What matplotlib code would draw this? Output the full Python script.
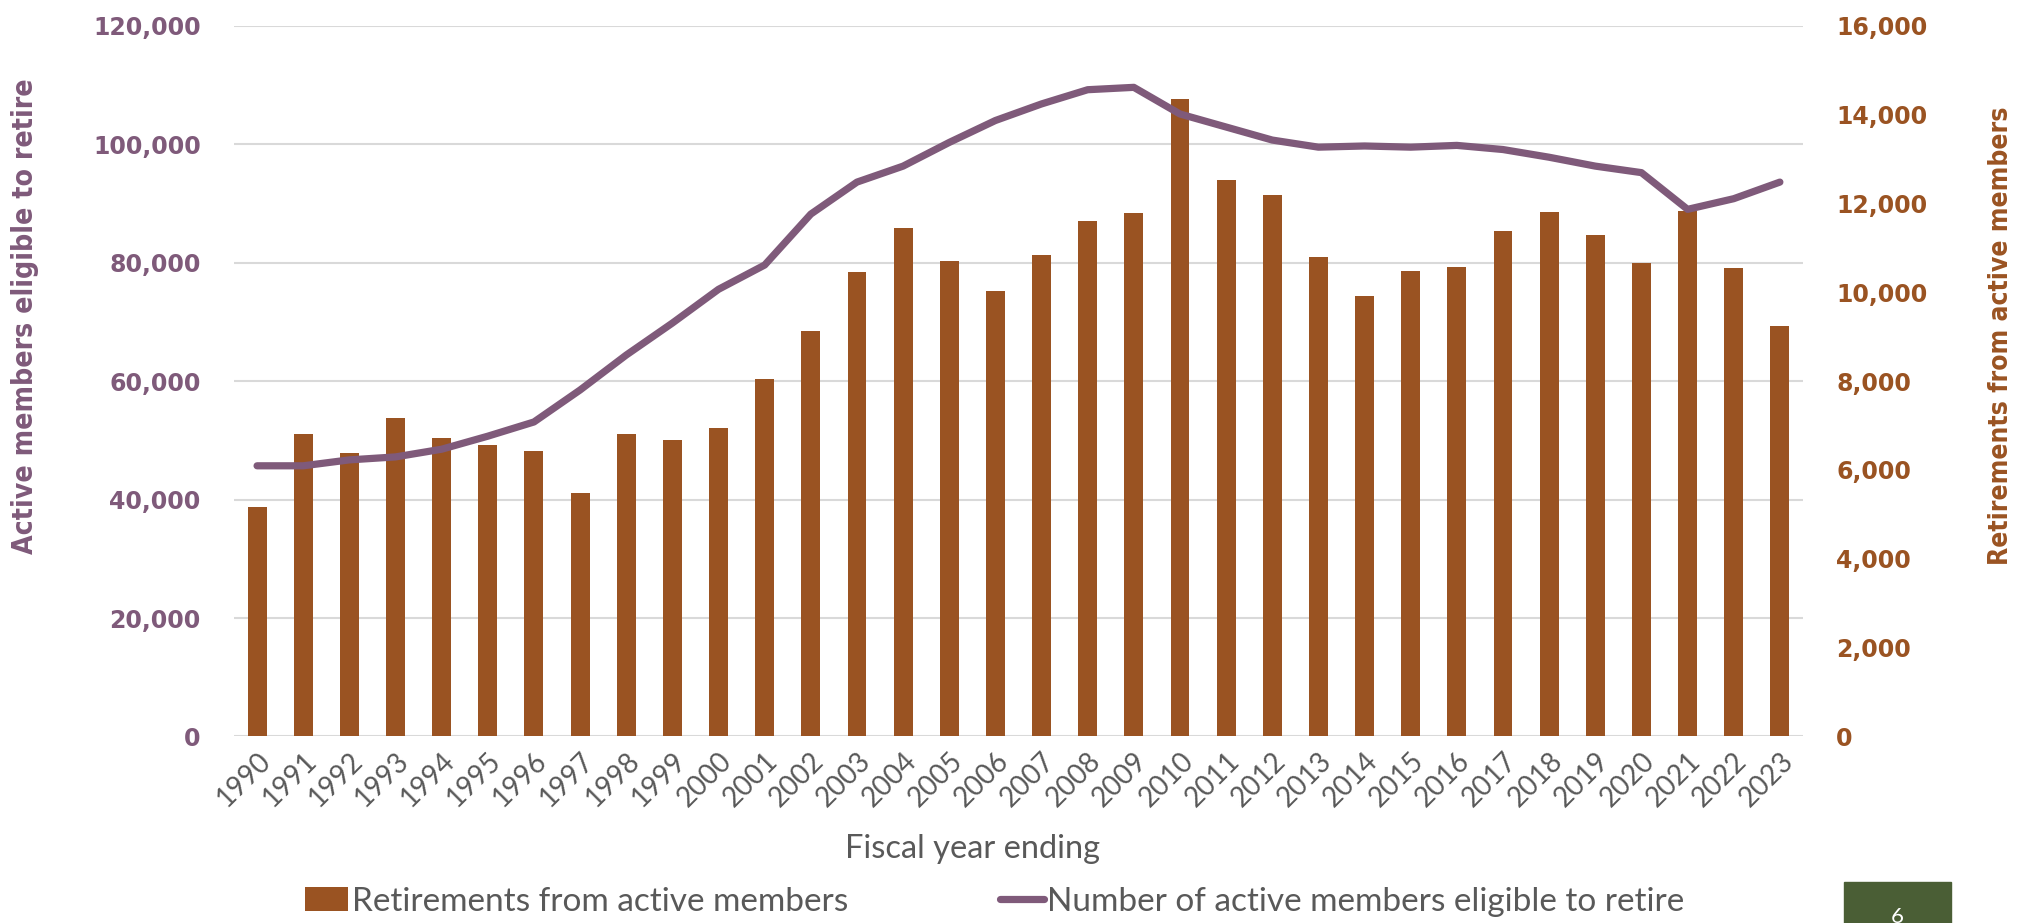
import matplotlib
matplotlib.use("Agg")
import matplotlib.pyplot as plt
from matplotlib import font_manager
import numpy as np
from matplotlib.ticker import FuncFormatter
from matplotlib.patches import Rectangle

years = list(range(1990, 2024))
retirements = [5170, 6810, 6390, 7170, 6720, 6570, 6430, 5490, 6810, 6680,
               6950, 8050, 9120, 10450, 11440, 10700, 10020, 10850, 11600, 11780,
               14360, 12520, 12180, 10790, 9910, 10470, 10560, 11370, 11800, 11300,
               10670, 11820, 10540, 9240]
eligible = [45700, 45700, 46700, 47200, 48500, 50700, 53100, 58500, 64400, 69800,
            75500, 79600, 88200, 93600, 96300, 100300, 104000, 106800, 109200, 109600,
            105100, 102900, 100700, 99500, 99700, 99500, 99800, 99100, 97800, 96300,
            95200, 89000, 90800, 93600]

purple = '#7f5a7a'
brown = '#9a5322'
gray = '#595959'

# condensed font for the axis titles, if one is around
names = {f.name for f in font_manager.fontManager.ttflist}
if 'Liberation Sans Narrow' in names:
    title_font = dict(family='Liberation Sans Narrow', size=27)
    right_size = 25.3
elif 'DejaVu Sans Condensed' in names:
    title_font = dict(family='DejaVu Sans Condensed', size=22.5)
    right_size = 21
else:
    title_font = dict(family='DejaVu Sans', size=20.3, stretch='condensed')
    right_size = 19

fig = plt.figure(figsize=(20.26, 9.23), dpi=100)
rect = [0.1155, 0.2021, 0.7744, 0.770]
x = np.arange(len(years))

# background axes: left scale, gridlines
ax = fig.add_axes(rect)
ax.set_ylim(0, 120000)
ax.set_yticks(range(0, 120001, 20000))
ax.yaxis.grid(True, color='#d9d9d9', linewidth=1.5)
ax.set_axisbelow(True)
ax.set_xlim(-0.5, len(years) - 0.5)
ax.set_xticks(x)
ax.set_xticklabels([str(y) for y in years], rotation=45, ha='right',
                   rotation_mode='anchor', fontsize=20, color=gray, family='Lato')
for s in ax.spines.values():
    s.set_visible(False)
ax.tick_params(length=0)
ax.tick_params(axis='x', pad=8)
ax.tick_params(axis='y', pad=24)
ax.yaxis.set_major_formatter(FuncFormatter(lambda v, p: f'{int(v):,}'))
for t in ax.get_yticklabels():
    t.set_color(purple)
    t.set_fontsize(17)
    t.set_fontweight('bold')

# bars on right scale
ax2 = ax.twinx()
ax2.bar(x, retirements, width=0.41, color=brown, label='Retirements from active members')
ax2.set_ylim(0, 16000)
ax2.set_yticks(range(0, 16001, 2000))
ax2.yaxis.set_major_formatter(FuncFormatter(lambda v, p: f'{int(v):,}'))
ax2.tick_params(length=0, pad=24)
for t in ax2.get_yticklabels():
    t.set_color(brown)
    t.set_fontsize(17)
    t.set_fontweight('bold')
for s in ax2.spines.values():
    s.set_visible(False)

# line on top, sharing the left scale
ax3 = fig.add_axes(rect, sharex=ax, sharey=ax)
ax3.patch.set_visible(False)
ax3.axis('off')
ax3.plot(x, eligible, color=purple, linewidth=5.2, solid_capstyle='round',
         solid_joinstyle='round', label='Number of active members eligible to retire')

fig.text(0.0125, 0.657, 'Active members eligible to retire', rotation=90,
         ha='center', va='center', color=purple,
         fontproperties=font_manager.FontProperties(weight='bold', **title_font))
right_font = dict(title_font, size=right_size)
fig.text(0.9875, 0.636, 'Retirements from active members', rotation=90,
         ha='center', va='center', color=brown,
         fontproperties=font_manager.FontProperties(weight='bold', **right_font))
fig.text(0.48, 0.08, 'Fiscal year ending', ha='center', va='center',
         fontsize=23.5, color=gray, family='Lato')

h2, l2 = ax2.get_legend_handles_labels()
h3, l3 = ax3.get_legend_handles_labels()
fig.legend(h2 + h3, l2 + l3, loc='center left', bbox_to_anchor=(0.144, 0.023),
           ncol=2, frameon=False, prop={'family': 'Lato', 'size': 24},
           labelcolor=gray, handlelength=1.3, handletextpad=0.1,
           columnspacing=4.57, borderaxespad=0)

fig.patches.append(Rectangle((1844 / 2026, 0), 107 / 2026, 41 / 923,
                             transform=fig.transFigure, color='#4a5e35'))
fig.text(1897 / 2026, -0.004, '6', ha='center', va='bottom', fontsize=16,
         color='white', family='Lato')

fig.savefig('out.png', dpi=100)
